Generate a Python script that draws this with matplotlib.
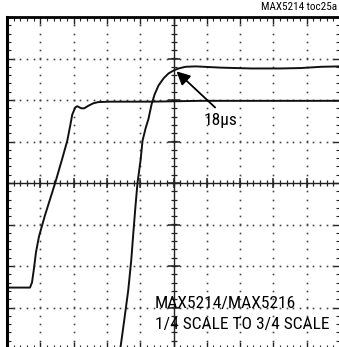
import numpy as np
import matplotlib
matplotlib.use('Agg')
import matplotlib.pyplot as plt

plt.rcParams['font.family'] = ['Roboto Condensed', 'DejaVu Sans']

# traces, in screen divisions (x: 0..10, y: -4..4)
x_slow = [0, 0.69, 0.75, 0.81, 0.87, 0.96, 1.14, 1.45, 1.66, 1.81, 1.90, 1.96,
          2.05, 2.11, 2.23, 2.32, 2.44, 2.59, 2.74, 3.10, 4.31, 5.81, 7.62, 10]
y_slow = [-2.52, -2.52, -2.40, -2.06, -1.67, -1.29, -0.78, 0.01, 0.59, 1.02, 1.39, 1.65,
          1.82, 1.85, 1.80, 1.80, 1.86, 1.92, 1.95, 1.96, 1.96, 1.98, 1.98, 1.98]

x_fast = [3.40, 3.52, 3.64, 3.73, 3.80, 3.86, 3.92, 4.01, 4.07, 4.16, 4.25, 4.34, 4.43,
          4.55, 4.70, 4.85, 5.00, 5.15, 5.36, 5.66, 6.42, 7.32, 8.22, 8.83, 9.43, 10]
y_fast = [-4.01, -3.31, -2.59, -1.87, -1.14, -0.54, 0.01, 0.54, 1.02, 1.31, 1.55, 1.89, 2.13,
          2.35, 2.52, 2.64, 2.71, 2.76, 2.80, 2.81, 2.78, 2.76, 2.76, 2.77, 2.80, 2.81]

W, H = 339, 347
fig = plt.figure(figsize=(W / 100, H / 100), dpi=100)
ax = fig.add_axes([7 / W, -2 / H, 333 / W, 332 / H])
ax.set_xlim(0, 10)
ax.set_ylim(-4, 4)

# dotted graticule
minor_x = np.arange(0, 10.001, 0.2)
minor_y = np.arange(-4, 4.001, 0.2)
for gy in range(-3, 4):
    if gy == 0:
        continue
    ax.plot(minor_x, np.full_like(minor_x, gy), ls='none', marker='s', ms=1.2,
            mec='none', mfc='#444444')
for gx in range(1, 10):
    if gx == 5:
        continue
    ax.plot(np.full_like(minor_y, gx), minor_y, ls='none', marker='s', ms=1.2,
            mec='none', mfc='#444444')

# center axes with tick marks
ax.axhline(0, color='#222222', lw=1.0)
ax.axvline(5, color='#222222', lw=1.0)
ax.plot(minor_x, np.zeros_like(minor_x), ls='none', marker='|', ms=4.5, mew=0.9, color='#222222')
ax.plot(np.full_like(minor_y, 5), minor_y, ls='none', marker='_', ms=5, mew=0.9, color='#222222')
ax.plot(np.arange(0, 11), np.zeros(11), ls='none', marker='|', ms=7, mew=1.1, color='#222222')
ax.plot(np.full(9, 5), np.arange(-4, 5), ls='none', marker='_', ms=8, mew=1.1, color='#222222')

# traces
ax.plot(x_slow, y_slow, color='#111111', lw=1.4)
ax.plot(x_fast, y_fast, color='#111111', lw=1.4)

ax.annotate('', xy=(5.09, 2.69), xytext=(6.25, 1.82),
            arrowprops=dict(arrowstyle='-|>', mutation_scale=20, lw=1.3,
                            color='black', shrinkA=0, shrinkB=0))
ax.text(5.90, 1.51, '18µs', fontsize=12.5, va='center', ha='left')
ax.text(4.43, -2.90, 'MAX5214/MAX5216', fontsize=12.5, va='center', ha='left')
ax.text(4.43, -3.40, '1/4 SCALE TO 3/4 SCALE', fontsize=12.5, va='center', ha='left')

fig.text(337 / W, 1 - 7 / H, 'MAX5214 toc25a', fontsize=8, ha='right', va='center')

# frame
ax.xaxis.set_major_locator(plt.MultipleLocator(1))
ax.xaxis.set_minor_locator(plt.MultipleLocator(0.2))
ax.yaxis.set_major_locator(plt.MultipleLocator(1))
ax.yaxis.set_minor_locator(plt.MultipleLocator(0.2))
ax.tick_params(which='both', direction='in', top=True, right=True,
               labelbottom=False, labelleft=False, color='#222222')
ax.tick_params(which='major', length=5, width=1.0)
ax.tick_params(which='minor', length=3, width=0.8)
for s in ax.spines.values():
    s.set_linewidth(1.0)
ax.spines['left'].set_linewidth(2.2)
ax.spines['top'].set_linewidth(2.0)

fig.savefig('out.png', dpi=100)
